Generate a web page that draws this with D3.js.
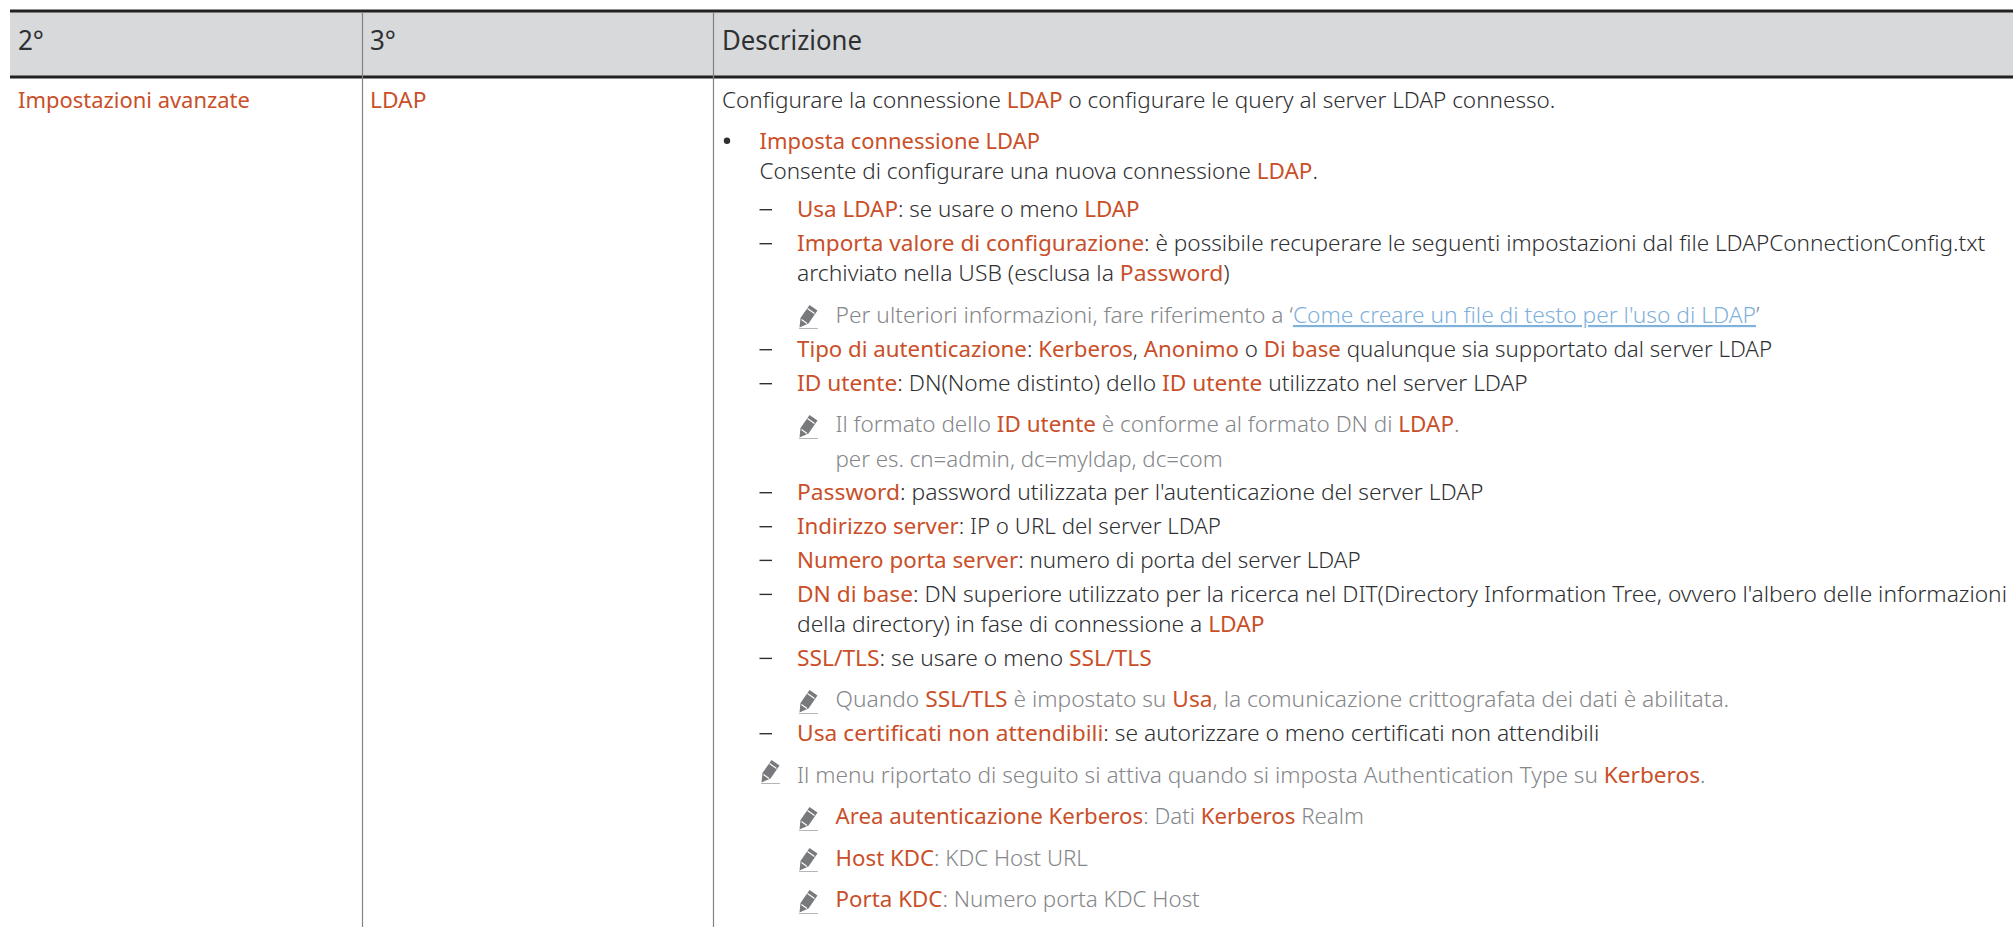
<!DOCTYPE html>
<html lang="it">
<head>
<meta charset="utf-8">
<title>Impostazioni avanzate - LDAP</title>
<script src="https://d3js.org/d3.v7.min.js"></script>
<style>
  html, body { margin: 0; padding: 0; background: #fff; }
  svg { display: block; }
  text { font-family: "Noto Sans", sans-serif; font-weight: 300; white-space: pre; }
  text.head { font-weight: 400; }
  tspan.term { font-weight: 400; }
</style>
</head>
<body>
<script>
// contenuto: [..] = termine evidenziato, {..} = link
var headerLabels = ["2°", "3°", "Descrizione"];
var col2Label = "[Impostazioni avanzate]";
var col3Label = "[LDAP]";
var lineTexts = [
  "Configurare la connessione [LDAP] o configurare le query al server LDAP connesso.",
  "[Imposta connessione LDAP]",
  "Consente di configurare una nuova connessione [LDAP].",
  "[Usa LDAP]: se usare o meno [LDAP]",
  "[Importa valore di configurazione]: è possibile recuperare le seguenti impostazioni dal file LDAPConnectionConfig.txt",
  "archiviato nella USB (esclusa la [Password])",
  "Per ulteriori informazioni, fare riferimento a ‘{Come creare un file di testo per l'uso di LDAP}’",
  "[Tipo di autenticazione]: [Kerberos], [Anonimo] o [Di base] qualunque sia supportato dal server LDAP",
  "[ID utente]: DN(Nome distinto) dello [ID utente] utilizzato nel server LDAP",
  "Il formato dello [ID utente] è conforme al formato DN di [LDAP].",
  "per es. cn=admin, dc=myldap, dc=com",
  "[Password]: password utilizzata per l'autenticazione del server LDAP",
  "[Indirizzo server]: IP o URL del server LDAP",
  "[Numero porta server]: numero di porta del server LDAP",
  "[DN di base]: DN superiore utilizzato per la ricerca nel DIT(Directory Information Tree, ovvero l'albero delle informazioni",
  "della directory) in fase di connessione a [LDAP]",
  "[SSL/TLS]: se usare o meno [SSL/TLS]",
  "Quando [SSL/TLS] è impostato su [Usa], la comunicazione crittografata dei dati è abilitata.",
  "[Usa certificati non attendibili]: se autorizzare o meno certificati non attendibili",
  "Il menu riportato di seguito si attiva quando si imposta Authentication Type su [Kerberos].",
  "[Area autenticazione Kerberos]: Dati [Kerberos] Realm",
  "[Host KDC]: KDC Host URL",
  "[Porta KDC]: Numero porta KDC Host"
];
var bulletLines = [1];
var dashLines = [3, 4, 7, 8, 11, 12, 13, 14, 16, 18];
var noteLines = [6, 9, 10, 17, 19, 20, 21, 22];
var pencilLines = [6, 9, 17, 19, 20, 21, 22];

// layout (separato dal contenuto)
var W = 2013, H = 927;
var lineIds = lineTexts.map(function (d, i) { return i; });
var baselines = [108, 149.3, 179.3, 217, 251, 281, 323, 357, 391, 431.7, 466.7, 500, 534, 567.7, 601.7, 631.7, 665.7, 707, 741, 783, 824, 866, 907];
var lefts = [722, 759.5, 759.5, 797, 797, 797, 835.5, 797, 797, 835.5, 835.5, 797, 797, 797, 797, 797, 797, 835.5, 797, 797, 835.5, 835.5, 835.5];
var rights = [1556, 1040, 1318, 1140, 1986, 1230, 1760, 1773, 1528, 1460, 1223, 1484, 1221, 1361, 2008, 1265, 1152, 1730, 1600, 1706, 1364, 1088, 1200];
var pencilX = [799, 799, 799, 761, 799, 799, 799];
var pencilY = [304, 414, 689, 759, 806, 847, 889];
var colLines = [362, 713];
var headerX = [18, 370, 722];
var headerEnd = [44, 396, 862];

var yScale = d3.scaleOrdinal(lineIds, baselines);
var xLeft = d3.scaleOrdinal(lineIds, lefts);
var xRight = d3.scaleOrdinal(lineIds, rights);

var ORANGE = "#c94f29", DARK = "#2f3032", GREY = "#85878a", BLUE = "#7fb1dd";

var svg = d3.select("body").append("svg").attr("width", W).attr("height", H);

// testata
svg.append("rect").attr("x", 10).attr("y", 11).attr("width", W - 10).attr("height", 66).attr("fill", "#d8d9db");
[9.5, 75.5].forEach(function (y) {
  svg.append("rect").attr("x", 10).attr("y", y).attr("width", W - 10).attr("height", 3).attr("fill", "#222");
});
svg.selectAll("line.col").data(colLines).enter().append("line")
  .attr("class", "col")
  .attr("x1", function (d) { return d + 0.5; }).attr("x2", function (d) { return d + 0.5; })
  .attr("y1", 12).attr("y2", H)
  .attr("stroke", "#808285").attr("stroke-width", 1.2);

// testo di una riga con i suoi spezzoni, poi compresso fino alla larghezza letta
function parseRuns(s, base) {
  var runs = [], re = /\[([^\]]*)\]|\{([^}]*)\}|([^\[{]+)/g, m;
  while ((m = re.exec(s))) {
    if (m[1] !== undefined) runs.push({ t: m[1], c: ORANGE, term: true });
    else if (m[2] !== undefined) runs.push({ t: m[2], c: BLUE, link: true });
    else runs.push({ t: m[3], c: base });
  }
  return runs;
}

function drawLine(s, x0, x1, y, size, base, cls) {
  var t = svg.append("text").attr("class", cls || null).attr("font-size", size).attr("xml:space", "preserve");
  t.selectAll("tspan").data(parseRuns(s, base)).enter().append("tspan")
    .attr("class", function (d) { return d.term ? "term" : null; })
    .attr("fill", function (d) { return d.c; })
    .attr("text-decoration", function (d) { return d.link ? "underline" : null; })
    .text(function (d) { return d.t; });
  var sx = (x1 - x0) / t.node().getComputedTextLength();
  t.attr("transform", "translate(" + x0 + "," + y + ") scale(" + sx + ",1)");
}

headerLabels.forEach(function (d, i) {
  drawLine(d, headerX[i], headerEnd[i], 50, 28, DARK, "head");
});
drawLine(col2Label, 18, 250, 107.5, 22, DARK);
drawLine(col3Label, 370, 426.5, 107.5, 22, DARK);

lineIds.forEach(function (i) {
  var isNote = noteLines.indexOf(i) >= 0;
  drawLine(lineTexts[i], xLeft(i), xRight(i), yScale(i), 22, isNote ? GREY : DARK);
});

// pallino e trattini
svg.selectAll("circle.bullet").data(bulletLines).enter().append("circle")
  .attr("class", "bullet")
  .attr("cx", 727).attr("cy", function (d) { return yScale(d) - 8.5; })
  .attr("r", 3.2).attr("fill", DARK);
svg.selectAll("rect.dash").data(dashLines).enter().append("rect")
  .attr("class", "dash")
  .attr("x", function (d) { return xLeft(d) - 37.5; })
  .attr("y", function (d) { return yScale(d) - 8; })
  .attr("width", 12.5).attr("height", 1.4).attr("fill", DARK);

// icona matita
var pencil = svg.selectAll("g.pencil").data(pencilLines).enter().append("g")
  .attr("class", "pencil")
  .attr("transform", function (d, i) { return "translate(" + pencilX[i] + "," + pencilY[i] + ")"; });
pencil.append("path")
  .attr("d", "M0.5,23.5 L1.5,14 L10.5,1 L18.5,6.5 L9.5,19.5 Z")
  .attr("fill", "#77797c");
pencil.append("path")
  .attr("d", "M8.5,4.5 L15.5,9.5 M2.5,15.5 L8,19.5")
  .attr("stroke", "#fff").attr("stroke-width", 1.1).attr("fill", "none");
pencil.append("line")
  .attr("x1", 0).attr("x2", 19).attr("y1", 24.5).attr("y2", 24.5)
  .attr("stroke", "#b5b6b8").attr("stroke-width", 1);
</script>
</body>
</html>
